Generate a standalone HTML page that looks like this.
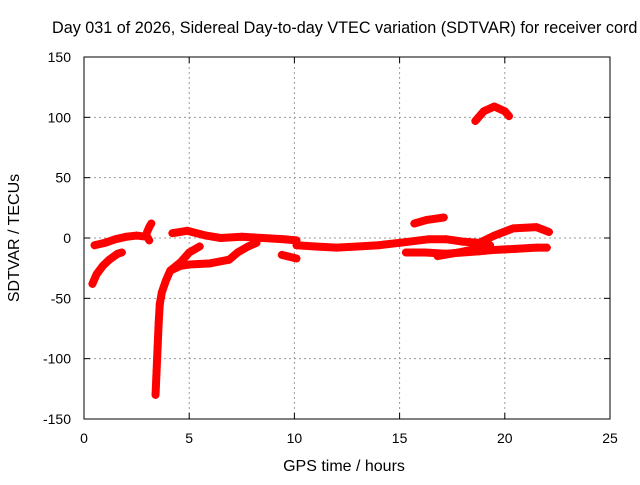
<!DOCTYPE html>
<html><head><meta charset="utf-8"><style>
body{margin:0;background:#fff}
svg text{font-family:"Liberation Sans",sans-serif;font-size:14px;fill:#000}
</style></head><body>
<svg id="c" width="640" height="480" viewBox="0 0 640 480">
<text x="52" y="33" style="font-size:16.2px">Day 031 of 2026, Sidereal Day-to-day VTEC variation (SDTVAR) for receiver cord</text>
<g id="grid"></g><g id="axes"></g><g id="plot"></g>
<rect x="84" y="57" width="526" height="362" fill="none" stroke="#000" stroke-width="1"/>
<text x="344" y="471" text-anchor="middle" style="font-size:16px">GPS time / hours</text>
<text transform="translate(19,238) rotate(-90)" text-anchor="middle" style="font-size:16px">SDTVAR / TECUs</text>
</svg>
<script>
const xTicks=[0,5,10,15,20,25];
const yTicks=[-150,-100,-50,0,50,100,150];
const s1T=[0.4,0.6,0.9,1.2,1.6,1.8];
const s1V=[-38,-30,-23,-18,-13,-12];
const s2T=[0.5,1,1.5,2,2.5,3,3.1];
const s2V=[-6,-4,-1,1,2,1,-2];
const s3T=[3.0,3.1,3.2];
const s3V=[5,9,12];
const s4T=[3.4,3.45,3.5,3.55,3.6,3.7,3.9,4.1,4.6,5.0,6.0,6.9,7.3,7.8,8.2];
const s4V=[-130,-110,-90,-70,-55,-45,-35,-27,-23,-22,-21,-18,-12,-7,-4];
const s5T=[4.1,4.6,5.0,5.5];
const s5V=[-27,-20,-12,-7];
const s6T=[4.2,4.9,5.8,6.5,7.5,8.5,9.5,10.1];
const s6V=[4,6,2,0,1,0,-1,-2];
const s7T=[9.4,10.1];
const s7V=[-14,-17];
const s8T=[10.1,11,12,13,14,15,16.4,17.2,18,18.8,19.5,20.4,21.5,22.1];
const s8V=[-6,-7,-8,-7,-6,-4,-1,-1,-3,-4,2,8,9,5];
const s9T=[15.3,16.2,17.2,18,18.8,19.4,20.5,21.5,22];
const s9V=[-12,-12,-13,-12,-11,-10,-9,-8,-8];
const s10T=[16.8,17.8,18.6,19.3];
const s10V=[-15,-12,-9,-6];
const s11T=[15.7,16.3,17.1];
const s11V=[12,15,17];
const s12T=[18.6,19,19.5,20,20.2];
const s12V=[97,105,109,105,101];
const series=[[s1T,s1V],[s2T,s2V],[s3T,s3V],[s4T,s4V],[s5T,s5V],[s6T,s6V],[s7T,s7V],[s8T,s8V],[s9T,s9V],[s10T,s10V],[s11T,s11V],[s12T,s12V]];
const X=t=>84+t*(526/25), Y=v=>238-v*(362/300);
const NS='http://www.w3.org/2000/svg';
const mk=(p,tag,at)=>{const e=document.createElementNS(NS,tag);for(const k in at)e.setAttribute(k,at[k]);p.appendChild(e);return e;};
const grid=document.getElementById('grid'),axes=document.getElementById('axes'),plot=document.getElementById('plot');
xTicks.forEach(t=>{const x=X(t);
 if(t>0&&t<25){const l=mk(grid,'line',{x1:x,x2:x,y1:57,y2:419,stroke:'#999','stroke-dasharray':'2,3'});
 
 }
 const tx=mk(axes,'text',{x:x,y:443,'text-anchor':'middle'});tx.textContent=t;
 
 
 mk(axes,'line',{x1:x,x2:x,y1:419,y2:413,stroke:'#000'});mk(axes,'line',{x1:x,x2:x,y1:57,y2:63,stroke:'#000'});
});
yTicks.forEach(v=>{const y=Y(v);
 if(v>-150&&v<150){const l=mk(grid,'line',{x1:84,x2:610,y1:y,y2:y,stroke:'#999','stroke-dasharray':'2,3'});
 
 }
 const tx=mk(axes,'text',{x:71,y:y+5,'text-anchor':'end'});tx.textContent=v;
 
 
 mk(axes,'line',{x1:84,x2:90,y1:y,y2:y,stroke:'#000'});mk(axes,'line',{x1:610,x2:604,y1:y,y2:y,stroke:'#000'});
});
series.forEach((s,i)=>{const [T,V]=s;
 const pts=T.map((t,j)=>X(t)+','+Y(V[j])).join(' ');
 const pl=mk(plot,'polyline',{points:pts,fill:'none',stroke:'#f00','stroke-width':8,'stroke-linejoin':'round','stroke-linecap':'round'});
 
 
 T.forEach((t,j)=>{const x=X(t),y=Y(V[j]);
  const p=mk(plot,'path',{d:`M${x-4},${y}H${x+4}M${x},${y-4}V${y+4}`,stroke:'#f00','stroke-width':1.2});
  
  
 });
});
</script>
</body></html>
